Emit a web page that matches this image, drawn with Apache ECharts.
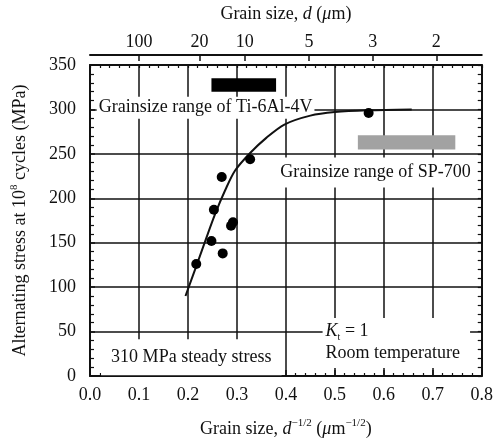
<!DOCTYPE html>
<html>
<head>
<meta charset="utf-8">
<script src="https://cdn.jsdelivr.net/npm/echarts@6/dist/echarts.min.js"></script>
<style>
  html, body { margin: 0; background: #fff; }
  #chart { width: 496px; height: 443px; }
</style>
</head>
<body>
<div id="chart"></div>
<script>
// measured points (d^-1/2, stress MPa)
const dotX = [0.217, 0.248, 0.271, 0.253, 0.269, 0.288, 0.292, 0.327, 0.569]
const dotY = [126, 152, 138, 187, 224, 169, 173, 244, 296]

// fitted curve, traced
const curveX = [0.195, 0.216, 0.236, 0.256, 0.276, 0.296, 0.327, 0.36, 0.397, 0.45, 0.5, 0.567, 0.657]
const curveY = [90, 122, 153, 183, 209, 231, 251, 268, 283, 293, 297, 299, 300]

// grain size ranges (x from, x to, y from, y to)
const tiRange = [0.248, 0.38, 320, 335]
const spRange = [0.547, 0.746, 255, 271]

// top axis: grain size d in um
const dTicks = [100, 20, 10, 5, 3, 2]
const dPos = dTicks.map(d => 1 / Math.sqrt(d))

const serif = 'Liberation Serif'
const black = '#111'
const frame = { show: true, onZero: false, lineStyle: { color: black, width: 2 } }
const grid = { show: true, lineStyle: { color: black, width: 1.5 } }
const base = { fontFamily: serif, fontSize: 18, color: black }
const rich = {
  a: { ...base, lineHeight: 22 },
  i: { ...base, fontStyle: 'italic', lineHeight: 22 },
  s: { fontFamily: serif, fontSize: 11, color: black, verticalAlign: 'top', lineHeight: 22 },
  sub: { fontFamily: serif, fontSize: 10, color: black, verticalAlign: 'bottom', lineHeight: 18 }
}

const chart = echarts.init(document.getElementById('chart'))

const notes = [
  { value: [0.236, 302], text: '{a|Grainsize range of Ti-6Al-4V}', pos: 'inside', pad: [0, 2] },
  { value: [0.583, 229], text: '{a|Grainsize range of SP-700}', pos: 'inside', pad: [4, 4] },
  { value: [0.207, 21], text: '{a|310 MPa steady stress}', pos: 'inside', pad: [7, 10] },
  { value: [0.475, 37], text: '{i|K}{sub|t}{a| = 1}\n{a|Room temperature}', pos: 'right', pad: [2, 10, 4, 3] }
]

const option = {
  animation: false,
  grid: { left: 90, right: 10, top: 64, bottom: 66 },
  xAxis: [
    {
      type: 'value', position: 'bottom', min: 0, max: 0.8, interval: 0.1,
      axisLine: frame,
      axisTick: { inside: true, length: 6, lineStyle: { color: black, width: 1.5 } },
      minorTick: { show: true, splitNumber: 5, length: 3, lineStyle: { color: black, width: 1.2 } },
      splitLine: grid,
      axisLabel: { ...base, margin: 10, formatter: v => v.toFixed(1) },
      name: '{a|Grain size, }{i|d}{s|−1/2}{a| (}{i|μ}{a|m}{s|−1/2}{a|)}',
      nameLocation: 'middle', nameGap: 42,
      nameTextStyle: { rich }
    },
    {
      type: 'value', position: 'top', min: 0, max: 0.8, interval: 0.1,
      axisLine: frame,
      axisTick: { inside: true, length: 3, lineStyle: { color: black, width: 1.2 } },
      minorTick: { show: true, splitNumber: 5, length: 3, lineStyle: { color: black, width: 1.2 } },
      splitLine: { show: false },
      axisLabel: { show: false }
    },
    {
      type: 'value', position: 'top', offset: 10, min: 0, max: 0.8,
      axisLine: frame,
      axisTick: { inside: true, length: 6, customValues: dPos, lineStyle: { color: black, width: 1.5 } },
      splitLine: { show: false },
      axisLabel: { ...base, margin: 4, customValues: dPos, formatter: v => String(Math.round(1 / (v * v))) },
      name: '{a|Grain size, }{i|d}{a| (}{i|μ}{a|m)}',
      nameLocation: 'middle', nameGap: 30,
      nameTextStyle: { rich }
    }
  ],
  yAxis: [
    {
      type: 'value', position: 'left', min: 0, max: 350, interval: 50,
      axisLine: frame,
      axisTick: { inside: true, length: 5, lineStyle: { color: black, width: 1.5 } },
      minorTick: { show: true, splitNumber: 5, length: 4, lineStyle: { color: black, width: 1.2 } },
      splitLine: grid,
      axisLabel: { ...base, margin: 14 },
      name: '{a|Alternating stress at 10}{s|8}{a| cycles (MPa)}',
      nameLocation: 'middle', nameGap: 59,
      nameTextStyle: { rich }
    },
    {
      type: 'value', position: 'right', min: 0, max: 350, interval: 50,
      axisLine: frame,
      axisTick: { inside: true, length: 4, lineStyle: { color: black, width: 1.2 } },
      minorTick: { show: true, splitNumber: 5, length: 4, lineStyle: { color: black, width: 1.2 } },
      splitLine: { show: false },
      axisLabel: { show: false }
    }
  ],
  series: [
    {
      type: 'scatter', z: 1, symbolSize: 0, silent: true,
      itemStyle: { opacity: 1 },
      data: notes.map(n => ({
        value: n.value,
        label: {
          show: true, position: n.pos, distance: 0,
          formatter: n.text, rich,
          backgroundColor: '#fff', padding: n.pad
        }
      })),
      markArea: {
        silent: true,
        data: [
          [{ coord: [tiRange[0], tiRange[2]], itemStyle: { color: '#000', opacity: 1 } }, { coord: [tiRange[1], tiRange[3]] }],
          [{ coord: [spRange[0], spRange[2]], itemStyle: { color: '#a2a2a2', opacity: 1 } }, { coord: [spRange[1], spRange[3]] }]
        ]
      }
    },
    {
      type: 'line', z: 3, smooth: 0.3, symbol: 'none',
      lineStyle: { color: black, width: 2 },
      data: curveX.map((x, i) => [x, curveY[i]])
    },
    {
      type: 'scatter', z: 4, symbolSize: 10,
      itemStyle: { color: '#000', opacity: 1 },
      data: dotX.map((x, i) => [x, dotY[i]])
    }
  ]
}

chart.setOption(option)
</script>
</body>
</html>
